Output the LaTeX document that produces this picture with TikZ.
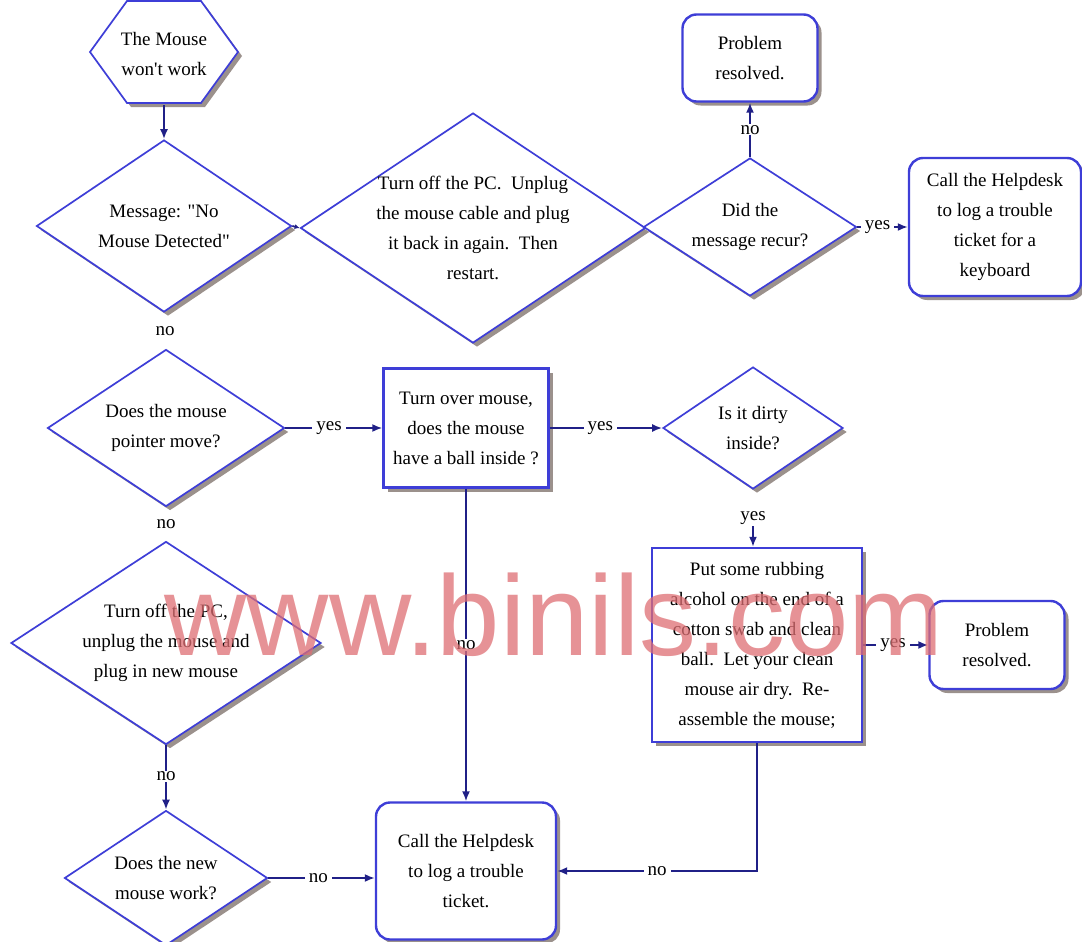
\documentclass[tikz,border=0pt]{standalone}
\usepackage{fontspec}
\setmainfont{Liberation Serif}[Ligatures=TeXOff]
\newfontfamily\wmfont{Liberation Sans}
\usetikzlibrary{shapes.geometric,shadows,arrows.meta,calc}
\definecolor{shapeblue}{RGB}{62,62,215}
\definecolor{connblue}{RGB}{32,32,135}
\definecolor{shadowgray}{RGB}{155,145,140}
\definecolor{wmred}{RGB}{222,110,115}
\begin{document}
\begin{tikzpicture}[x=1pt,y=-1pt,
  txt/.style={font=\fontsize{19}{30}\selectfont, align=center},
  shp/.style={draw=shapeblue, line width=1.7pt, fill=white,
    drop shadow={shadow xshift=4pt,shadow yshift=-4pt,fill=shadowgray,opacity=1}},
  dia/.style={shp, diamond, inner sep=0pt},
  box/.style={shp, rectangle, line width=2.4pt, txt, inner sep=2pt},
  rbox/.style={box, rounded corners=14pt},
  conn/.style={draw=connblue, line width=1.8pt},
  arr/.style={conn, -{Latex[length=10pt,width=8pt]}},
  lbl/.style={txt, fill=white, inner xsep=4pt, inner ysep=1pt},
]
\useasboundingbox (0,0) rectangle (1082,942);
\clip (0,0) rectangle (1082,942);

% start hexagon
\fill[shadowgray] (94,56) -- (131,5) -- (205,5) -- (242,56) -- (205,107) -- (131,107) -- cycle;
\draw[draw=shapeblue, line width=1.7pt, fill=white] (90,52) -- (127,1) -- (201,1) -- (238,52) -- (201,103) -- (127,103) -- cycle;
\node[txt, minimum width=148pt, minimum height=102pt, inner sep=0pt] (hex) at (164,54) {The Mouse\\won't work};

% diamonds
\node[dia, minimum width=255pt, minimum height=172pt,
  label={[txt]center:{Message: "No\\Mouse Detected"}}] (msg) at (164,226) {};
\node[dia, minimum width=345pt, minimum height=230pt,
  label={[txt]center:{Turn off the PC.\ \ Unplug\\the mouse cable and plug\\it back in again.\ \ Then\\restart.}}] (off1) at (473,228) {};
\node[dia, minimum width=213pt, minimum height=138pt,
  label={[txt]center:{Did the\\message recur?}}] (recur) at (750,227) {};
\node[dia, minimum width=237pt, minimum height=157pt,
  label={[txt]center:{Does the mouse\\pointer move?}}] (pointer) at (166,428) {};
\node[dia, minimum width=180pt, minimum height=122pt,
  label={[txt]center:{Is it dirty\\inside?}}] (dirty) at (753,428) {};
\node[dia, minimum width=310pt, minimum height=203pt,
  label={[txt]center:{Turn off the PC,\\unplug the mouse and\\plug in new mouse}}] (off2) at (166,643) {};
\node[dia, minimum width=203pt, minimum height=135pt,
  label={[txt]center:{Does the new\\mouse work?}}] (newm) at (166,878) {};

% boxes
\node[rbox, minimum width=135pt, minimum height=87pt] (res1) at (750,58) {Problem\\resolved.};
\node[rbox, minimum width=172pt, minimum height=138pt] (helpkb) at (995,227) {Call the Helpdesk\\to log a trouble\\ticket for a\\keyboard};
\node[box, minimum width=165pt, minimum height=119pt] (turnover) at (466,428) {Turn over mouse,\\does the mouse\\have a ball inside ?};
\node[box, minimum width=210pt, minimum height=194pt] (rub) at (757,645) {Put some rubbing\\alcohol on the end of a\\cotton swab and clean\\ball.\ \ Let your clean\\mouse air dry.\ \ Re-\\assemble the mouse;};
\node[rbox, minimum width=135pt, minimum height=88pt] (res2) at (997,645) {Problem\\resolved.};
\node[rbox, minimum width=180pt, minimum height=137pt] (help) at (466,871) {Call the Helpdesk\\to log a trouble\\ticket.};

% connectors
\draw[arr] (hex.south) -- (msg.north);
\draw[conn, -{Latex[length=5pt,width=5pt]}] (msg.east) -- (off1.west);
\draw[arr] (recur.north) -- node[lbl]{no} (res1.south);
\draw[arr] (recur.east) -- node[lbl, pos=0.4]{yes} (helpkb.west);
\path (msg.south) -- node[lbl] (no1) {no} (pointer.north);
\draw[arr] (pointer.east) -- node[lbl, pos=0.45]{yes} (turnover.west);
\draw[arr] (turnover.east) -- node[lbl, pos=0.45]{yes} (dirty.west);
\path (dirty.south) -- node[lbl, pos=0.5] (yes3) {yes} (dirty.south |- rub.north);
\draw[arr] (yes3.south) -- (yes3.south |- rub.north);
\draw[arr] (rub.east) -- node[lbl, pos=0.46]{yes} (res2.west);
\draw[arr] (turnover.south) -- node[lbl]{no} (help.north);
\draw[arr] (rub.south) |- node[lbl, pos=0.75]{no} (help.east);
\path (pointer.south) -- node[lbl] (no2) {no} (off2.north);
\draw[arr] (off2.south) -- node[lbl, pos=0.48]{no} (newm.north);
\draw[arr] (newm.east) -- node[lbl, pos=0.47]{no} (newm.east -| help.west);

% watermark
\node[font=\wmfont\fontsize{114}{114}\selectfont, text=wmred, text opacity=0.75, anchor=base, inner sep=0pt] (wmark) at (554,655) {www.binils.com};
\end{tikzpicture}
\end{document}
